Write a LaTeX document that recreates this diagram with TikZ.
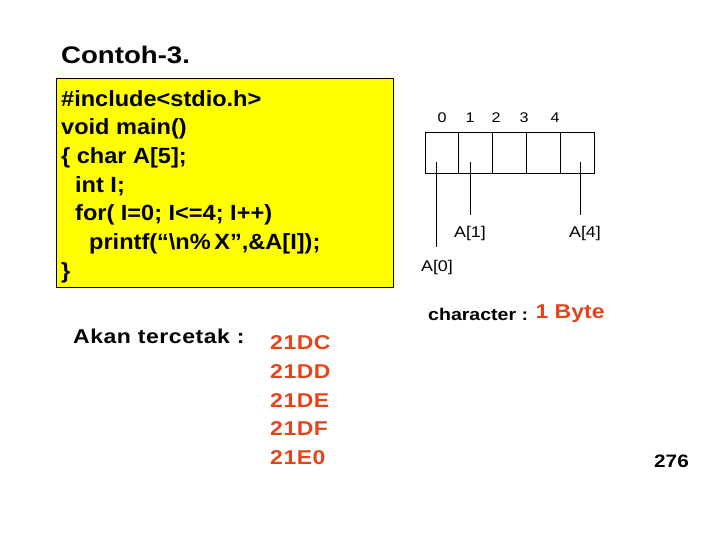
\documentclass[tikz,border=0pt]{standalone}
\usepackage{fontspec}
\setmainfont{Liberation Sans}[FakeStretch=1.15]
\newfontfamily\codefont{Liberation Sans}[FakeStretch=1.07]
\usepackage{tikz}
\usetikzlibrary{positioning}
\definecolor{codeY}{RGB}{255,255,0}
\definecolor{hexR}{RGB}{228,68,28}

\begin{document}
\begin{tikzpicture}[
  x=1pt, y=-1pt,
  title/.style={font=\fontsize{24}{28}\selectfont\bfseries, anchor=west, inner sep=0pt},
  codebox/.style={draw, fill=codeY, line width=0.8pt, minimum width=337pt, minimum height=209pt, inner sep=0pt},
  code/.style={font=\codefont\fontsize{22}{28.7}\selectfont\bfseries, align=left, anchor=north west, inner sep=0pt},
  outtxt/.style={font=\fontsize{20}{28.7}\selectfont\bfseries\addfontfeature{LetterSpace=2.7}, anchor=west, inner sep=0pt},
  hex/.style={outtxt, text=hexR, align=left, anchor=north west},
  cell/.style={draw, line width=0.8pt, minimum width=33.8pt, minimum height=41pt, inner sep=0pt},
  idx/.style={font=\fontsize{14}{16}\selectfont, inner sep=0pt},
  lbl/.style={font=\fontsize{15.5}{18}\selectfont, inner sep=0pt},
  ptr/.style={line width=0.8pt}
]
\useasboundingbox (0,0) rectangle (720,540);
\node[title] (ttl) at (61,55) {Contoh-3.};
\node[codebox] (src) at (224.5,182.5) {};
\node[code] (prog) at (61,90) {\#include<stdio.h>\\
void main()\\
\{ char A[5];\\
\hspace*{14pt}int I;\\
\hspace*{14pt}for( I=0; I<=4; I++)\\
\hspace*{28pt}printf(“\textbackslash n\%\,X”,\&A[I]);\\
\}};
\node[outtxt] (akan) at (73,336) {Akan tercetak :};
\node[hex] (hexlist) at (270,335.7) {21DC\\21DD\\21DE\\21DF\\21E0};
\foreach \i in {0,...,4}
  \node[cell] (cell\i) at ({441.9+33.8*\i},152.5) {};
\foreach \i/\x in {0/442,1/470,2/496,3/524,4/555}
  \node[idx] (idx\i) at (\x,118) {\i};
\coordinate (p0) at (436,162);
\coordinate (p1) at (470,162);
\coordinate (p4) at (580,162);
\node[lbl] (lab1) at (470,233) {A[1]};
\node[lbl] (lab4) at (585,233) {A[4]};
\node[lbl] (lab0) at (437,267) {A[0]};
\draw[ptr] (p0) -- ([yshift=13pt]p0 |- lab0.north);
\draw[ptr] (p1) -- ([yshift=11pt]p1 |- lab1.north);
\draw[ptr] (p4) -- ([yshift=11pt]p4 |- lab4.north);
\node[font=\fontsize{17}{20}\selectfont\bfseries, anchor=west, inner sep=0pt] (chr) at (428,314) {character :};
\node[font=\fontsize{20}{24}\selectfont\bfseries, text=hexR, anchor=west, inner sep=0pt, right=7pt of chr] (byte) {1 Byte};
\node[font=\fontsize{18}{20}\selectfont\bfseries, inner sep=0pt] (pg) at (671.5,461) {276};
\end{tikzpicture}
\end{document}
